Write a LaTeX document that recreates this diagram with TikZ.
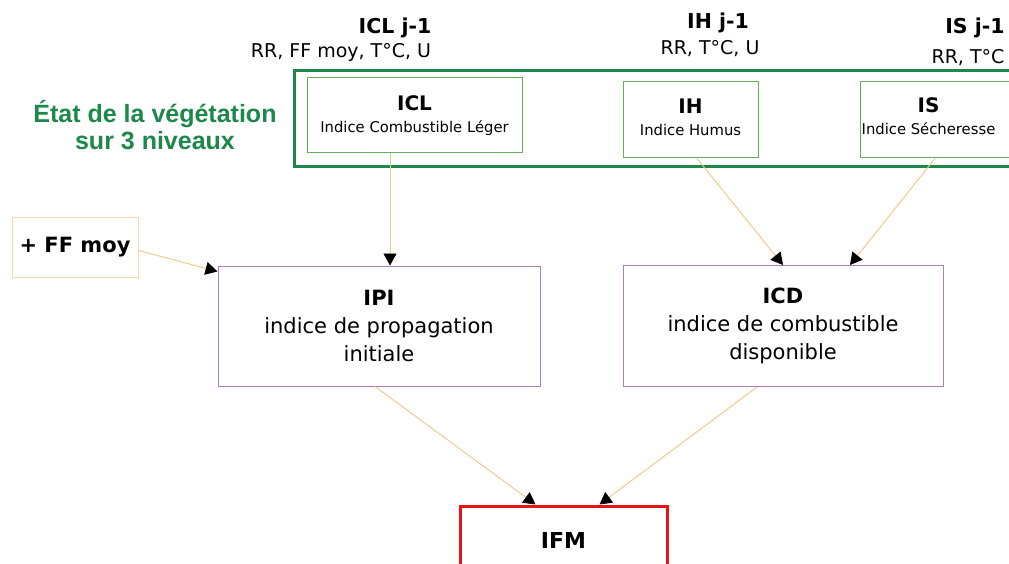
\documentclass[tikz,border=0pt]{standalone}
\usepackage{fontspec}
\setmainfont{DejaVu Sans}
\newfontfamily\arialfont{Liberation Sans}
\usepackage{tikz}
\usetikzlibrary{arrows.meta}
\definecolor{vertfonce}{RGB}{30,135,75}
\definecolor{vertclair}{RGB}{100,175,90}
\definecolor{sable}{RGB}{240,200,130}
\definecolor{sableclair}{RGB}{245,218,170}
\definecolor{violet}{RGB}{175,125,195}
\definecolor{rouge}{RGB}{230,20,20}

\begin{document}
\begin{tikzpicture}[x=1pt,y=-1pt,
        every node/.style={inner sep=0pt,align=center},
        niveau/.style={draw=vertclair,line width=1pt,font=\fontsize{14.8}{22}\selectfont},
        indice/.style={draw=violet,line width=1pt,font=\fontsize{21}{28}\selectfont},
        flow/.style={draw=sable,line width=0.9pt,-{Triangle[black,length=12pt,width=13pt]}},
        titre/.style={font=\fontsize{20.5}{22}\selectfont\bfseries},
        meteo/.style={font=\fontsize{19}{22}\selectfont}]
        \clip (0,0) rectangle (1009,564);
        \fill[white] (0,0) rectangle (1009,564);
        \draw (395,28) node(icljm)[titre]{ICL j-1};
        \draw (341,52) node(iclvar)[meteo]{RR, FF moy, T°C, U};
        \draw (718,23) node(ihjm)[titre]{IH j-1};
        \draw (710,49) node(ihvar)[meteo]{RR, T°C, U};
        \draw (975,28) node(isjm)[titre]{IS j-1};
        \draw (968,58) node(isvar)[meteo]{RR, T°C};
        \draw (654.5,119) node(etat)[draw=vertfonce,line width=3pt,minimum width=721pt,minimum height=96pt]{};
        \draw (155,125) node(vegetation)[text=vertfonce,font=\arialfont\fontsize{25}{27}\selectfont\bfseries]{État de la végétation\\sur 3 niveaux};
        \draw (414.5,115.5) node(icl)[niveau,minimum width=215pt,minimum height=75pt]{{\fontsize{20}{22}\selectfont\bfseries ICL}\\Indice Combustible Léger};
        \draw (690.5,120) node(ih)[niveau,minimum width=135pt,minimum height=76pt,
            label={[niveau,draw=none,yshift=3pt]center:{{\fontsize{20}{22}\selectfont\bfseries IH}\\Indice Humus}}]{};
        \draw (937.5,120) node(is)[niveau,minimum width=155pt,minimum height=76pt,
            label={[niveau,draw=none,xshift=-9pt,yshift=4pt]center:{{\fontsize{20}{22}\selectfont\bfseries IS}\\Indice Sécheresse}}]{};
        \draw (75,247.5) node(ff)[draw=sableclair,line width=1pt,minimum width=126pt,minimum height=59pt,font=\fontsize{21}{24}\selectfont\bfseries]{+ FF moy};
        \draw (379,326) node(ipi)[indice,minimum width=322pt,minimum height=120pt]{\textbf{IPI}\\indice de propagation\\initiale};
        \draw (783,326) node(icd)[indice,minimum width=320pt,minimum height=121pt]{\textbf{ICD}\\indice de combustible\\disponible};
        \draw (563.5,540) node(ifm)[draw=rouge,line width=3pt,minimum width=207pt,minimum height=68pt,font=\fontsize{22}{24}\selectfont\bfseries]{IFM};
        \draw[flow] ([xshift=-24.5pt]icl.south) -- ([xshift=11pt]ipi.north);
        \draw[flow] ([yshift=-3pt]ff.east) -- ([yshift=-6pt]ipi.north west);
        \draw[flow] ([xshift=6.5pt]ih.south) -- (icd.north);
        \draw[flow] ([xshift=-2.5pt]is.south) -- ([xshift=67pt]icd.north);
        \draw[flow] ([xshift=-4pt]ipi.south) -- ([xshift=-28pt]ifm.north);
        \draw[flow] ([xshift=-26pt]icd.south) -- ([xshift=36pt]ifm.north);
\end{tikzpicture}
\end{document}
